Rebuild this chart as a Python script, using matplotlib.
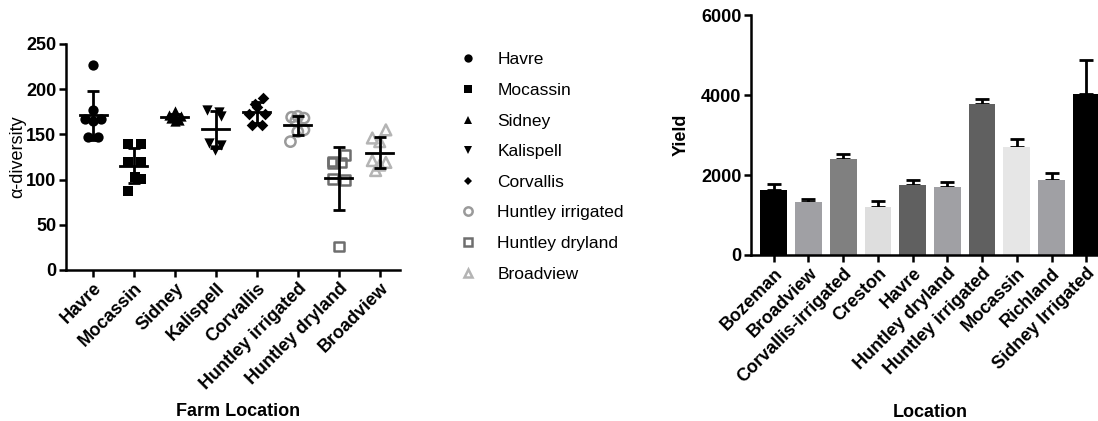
import numpy as np
import matplotlib
matplotlib.use('Agg')
from matplotlib import pyplot as plt
from matplotlib.lines import Line2D

plt.rcParams['font.family'] = ['Liberation Sans', 'DejaVu Sans']

# left panel: alpha diversity per farm location
farms = ['Havre', 'Mocassin', 'Sidney', 'Kalispell', 'Corvallis',
         'Huntley irrigated', 'Huntley dryland', 'Broadview']
havre = [227, 177, 167, 165, 167, 147, 147]
mocassin = [139, 139, 120, 120, 103, 101, 87]
sidney = [176, 171, 170, 169, 168, 166, 165]
kalispell = [177, 175, 170, 140, 138, 133]
corvallis = [184, 190, 180, 173, 173, 160, 160]
huntley_irr = [170, 169, 168, 165, 155, 153, 142]
huntley_dry = [127, 120, 119, 118, 101, 100, 26]
broadview = [155, 146, 142, 121, 119, 116, 110]
diversity = [havre, mocassin, sidney, kalispell, corvallis,
             huntley_irr, huntley_dry, broadview]

# horizontal scatter of the replicates
jitter = [[0, 0, -0.2, 0, 0.2, -0.12, 0.12],
          [-0.14, 0.18, -0.14, 0.18, 0.02, 0.18, -0.14],
          [0, -0.15, 0.15, 0, -0.1, 0.1, 0],
          [-0.22, 0.08, 0.12, -0.18, 0.12, -0.02],
          [-0.05, 0.15, 0.0, -0.2, 0.2, -0.12, 0.12],
          [0.0, -0.15, 0.15, -0.05, 0.15, 0.0, -0.18],
          [0.15, -0.15, 0.05, -0.15, -0.15, 0.15, 0.0],
          [0.15, -0.18, 0.0, -0.18, 0.15, 0.0, -0.1]]

markers = ['o', 's', '^', 'v', 'D', 'o', 's', '^']
sizes = [55, 50, 55, 55, 35, 55, 50, 60]
face = ['black', 'black', 'black', 'black', 'black', 'none', 'none', 'none']
edge = ['black', 'black', 'black', 'black', 'black', '#9a9a9a', '#6e6e6e', '#b4b4b4']

# right panel: yield per location
locations = ['Bozeman', 'Broadview', 'Corvallis-irrigated', 'Creston', 'Havre',
             'Huntley dryland', 'Huntley irrigated', 'Mocassin', 'Richland',
             'Sidney Irrigated']
yield_mean = [1625, 1317, 2392, 1208, 1742, 1692, 3775, 2708, 1875, 4025]
yield_err = [150, 75, 125, 134, 125, 141, 125, 192, 167, 850]
bar_colors = ['black', '#a0a0a4', '#808080', '#dedede', '#606060',
              '#a0a0a4', '#606060', '#e6e6e6', '#a0a0a4', 'black']

tick_font = {'weight': 'bold', 'size': 13}
label_font = {'weight': 'bold', 'size': 13}

fig = plt.figure(figsize=(10.98, 4.21), dpi=100)

# ---- scatter panel
ax = fig.add_axes([0.0601, 0.3587, 0.304, 0.5368])
for i, vals in enumerate(diversity):
    vals = np.array(vals, dtype=float)
    xs = i + np.array(jitter[i])
    lw = 0 if face[i] != 'none' else 1.8
    ax.scatter(xs, vals, marker=markers[i], s=sizes[i], facecolors=face[i],
               edgecolors=edge[i], linewidths=lw, zorder=3)
    m = vals.mean()
    sd = vals.std(ddof=1)
    ax.plot([i - 0.33, i + 0.33], [m, m], color='black', lw=2, zorder=4)
    ax.errorbar(i, m, yerr=sd, color='black', lw=2, capsize=4.5, capthick=2, zorder=4)

ax.set_xlim(-0.66, 7.49)
ax.set_ylim(0, 250)
ax.set_yticks(np.arange(0, 251, 50))
ax.set_xticks(range(len(farms)))
ax.set_xticklabels(farms, rotation=45, ha='right', rotation_mode='anchor', fontdict=tick_font)
for t in ax.get_yticklabels():
    t.set_fontweight('bold')
    t.set_fontsize(13)
ax.set_ylabel('α-diversity', fontsize=13)
ax.yaxis.set_label_coords(-0.12, 0.5)
ax.set_xlabel('Farm Location', fontdict=label_font)
ax.xaxis.set_label_coords(0.515, -0.59)

# legend of the scatter panel
handles = []
for i, name in enumerate(farms):
    handles.append(Line2D([], [], linestyle='none', marker=markers[i],
                          markersize=6 if markers[i] != 'D' else 4.5,
                          markerfacecolor=face[i], markeredgecolor=edge[i],
                          markeredgewidth=0 if face[i] != 'none' else 1.8,
                          label=name))
fig.legend(handles=handles, loc='upper left', bbox_to_anchor=(0.404, 0.913),
           frameon=False, fontsize=12.5, labelspacing=0.89, handletextpad=1.2,
           handlelength=1.0)

# ---- bar panel
ax2 = fig.add_axes([0.684, 0.3943, 0.326, 0.570])
xpos = np.arange(len(locations))
ax2.bar(xpos, yield_mean, width=0.77, color=bar_colors, zorder=2)
ax2.errorbar(xpos, yield_mean, yerr=[np.zeros(len(yield_err)), yield_err],
             fmt='none', ecolor='black', elinewidth=2, capsize=5, capthick=2, zorder=1)
ax2.set_xlim(-0.655, 9.655)
ax2.set_ylim(0, 6000)
ax2.set_yticks(np.arange(0, 6001, 2000))
ax2.set_xticks(xpos)
ax2.set_xticklabels(locations, rotation=45, ha='right', rotation_mode='anchor', fontdict=tick_font)
for t in ax2.get_yticklabels():
    t.set_fontweight('bold')
    t.set_fontsize(13)
ax2.set_ylabel('Yield', fontdict=label_font, labelpad=8)
ax2.set_xlabel('Location', fontdict=label_font)
ax2.xaxis.set_label_coords(0.50, -0.62)

for a in (ax, ax2):
    a.spines['top'].set_visible(False)
    a.spines['right'].set_visible(False)
    a.spines['left'].set_linewidth(1.8)
    a.spines['bottom'].set_linewidth(1.8)
    a.tick_params(direction='out', length=5, width=1.8, pad=2)

plt.savefig('out.png', dpi=100)
